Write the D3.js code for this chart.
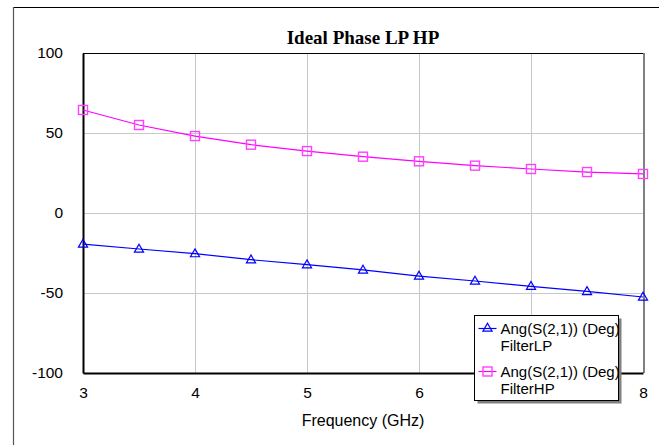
<!DOCTYPE html>
<html>
<head>
<meta charset="utf-8">
<script src="https://cdn.jsdelivr.net/npm/d3@7"></script>
<style>
  html, body { margin: 0; padding: 0; background: #fff; }
  svg { display: block; }
</style>
</head>
<body>
<svg id="chart" width="659" height="445"></svg>
<script>
// Frequency sweep (GHz) and phase of S21 (degrees) for both filters
const freqGHz   = [3, 3.5, 4, 4.5, 5, 5.5, 6, 6.5, 7, 7.5, 8];
const phaseLP   = [-19.4, -22.5, -25.4, -29.2, -32.3, -35.6, -39.4, -42.5, -45.8, -49.0, -52.5];
const phaseHP   = [64.4, 55.0, 48.1, 42.7, 38.7, 35.2, 32.3, 29.6, 27.5, 25.6, 24.4];
const xTicks    = [3, 4, 5, 6, 7, 8];
const xTickLabels = [3, 4, 5, 6, 8];   // "7" sits under the legend box
const yTicks    = [-100, -50, 0, 50, 100];
const seriesNames = ["Ang(S(2,1)) (Deg)", "Ang(S(2,1)) (Deg)"];
const seriesSubs  = ["FilterLP", "FilterHP"];

const svg = d3.select("#chart");
const plot = { left: 83, right: 643, top: 53, bottom: 373 };

const x = d3.scaleLinear().domain([3, 8]).range([plot.left, plot.right]);
const y = d3.scaleLinear().domain([-100, 100]).range([plot.bottom, plot.top]);

const sans = "'Liberation Sans', Arial, sans-serif";
const plainNum = d => String(d);   // ASCII hyphen for negatives

// outer frame (top and left edges)
svg.append("line").attr("x1", 13).attr("x2", 659).attr("y1", 7.5).attr("y2", 7.5)
  .attr("stroke", "#000").attr("stroke-width", 1.2);
svg.append("line").attr("x1", 13.5).attr("x2", 13.5).attr("y1", 7).attr("y2", 445)
  .attr("stroke", "#555").attr("stroke-width", 1.2);

// title
svg.append("text")
  .attr("x", (plot.left + plot.right) / 2).attr("y", 44)
  .attr("text-anchor", "middle")
  .attr("font-family", "'Liberation Serif', 'Times New Roman', serif")
  .attr("font-weight", "bold").attr("font-size", 19)
  .text("Ideal Phase LP HP");

// gridlines
const grid = svg.append("g").attr("stroke", "#c8c8c8").attr("stroke-width", 1);
grid.selectAll(".gx").data(xTicks.slice(1, -1)).join("line")
  .attr("x1", d => Math.round(x(d)) + 0.5).attr("x2", d => Math.round(x(d)) + 0.5)
  .attr("y1", plot.top).attr("y2", plot.bottom);
grid.selectAll(".gy").data(yTicks.slice(1, -1)).join("line")
  .attr("x1", plot.left).attr("x2", plot.right)
  .attr("y1", d => Math.round(y(d)) + 0.5).attr("y2", d => Math.round(y(d)) + 0.5);

// plot frame
svg.append("line").attr("x1", plot.left).attr("x2", plot.right).attr("y1", plot.top + 0.5).attr("y2", plot.top + 0.5)
  .attr("stroke", "#000").attr("stroke-width", 1);
svg.append("line").attr("x1", plot.right + 1).attr("x2", plot.right + 1).attr("y1", plot.top).attr("y2", plot.bottom)
  .attr("stroke", "#808080").attr("stroke-width", 2);

// axes built with d3-axis, tick marks hidden
const xAxis = svg.append("g").attr("transform", `translate(0,${plot.bottom})`)
  .call(d3.axisBottom(x).tickValues(xTickLabels).tickSize(0).tickPadding(14).tickFormat(plainNum));
const yAxis = svg.append("g").attr("transform", `translate(${plot.left},0)`)
  .call(d3.axisLeft(y).tickValues(yTicks).tickSize(0).tickPadding(20).tickFormat(plainNum));
[xAxis, yAxis].forEach(g => {
  g.select(".domain").attr("stroke", "#000").attr("stroke-width", 2);
  g.selectAll("text").attr("font-family", sans).attr("font-size", 15.5).attr("fill", "#000");
});

// x-axis title
svg.append("text")
  .attr("x", (plot.left + plot.right) / 2).attr("y", 426)
  .attr("text-anchor", "middle")
  .attr("font-family", sans).attr("font-size", 16)
  .text("Frequency (GHz)");

// series
const line = d3.line().x(d => x(d[0])).y(d => y(d[1]));
const lpData = freqGHz.map((f, i) => [f, phaseLP[i]]);
const hpData = freqGHz.map((f, i) => [f, phaseHP[i]]);

const triPath = d3.symbol().type(d3.symbolTriangle).size(36)();
const sqSize = 9;

svg.append("path").datum(hpData).attr("d", line)
  .attr("fill", "none").attr("stroke", "#ff00ff").attr("stroke-width", 1.2);
svg.append("g").selectAll("rect").data(hpData).join("rect")
  .attr("x", d => x(d[0]) - sqSize / 2).attr("y", d => y(d[1]) - sqSize / 2)
  .attr("width", sqSize).attr("height", sqSize)
  .attr("fill", "none").attr("stroke", "#ff40ff").attr("stroke-width", 1.4);

svg.append("path").datum(lpData).attr("d", line)
  .attr("fill", "none").attr("stroke", "#0000ff").attr("stroke-width", 1.2);
svg.append("g").selectAll("path").data(lpData).join("path")
  .attr("d", triPath)
  .attr("transform", d => `translate(${x(d[0])},${y(d[1]) + 0.5})`)
  .attr("fill", "none").attr("stroke", "#0000ff").attr("stroke-width", 1.2);

// legend with drop shadow
const lg = svg.append("g").attr("transform", "translate(474.5,315.5)");
const lw = 144, lh = 85;
lg.append("rect").attr("x", 3).attr("y", 3).attr("width", lw).attr("height", lh).attr("fill", "#808080");
lg.append("rect").attr("width", lw).attr("height", lh).attr("fill", "#fff").attr("stroke", "#000").attr("stroke-width", 1);

const entries = [
  { color: "#0000ff", marker: "tri", name: seriesNames[0], sub: seriesSubs[0] },
  { color: "#ff00ff", marker: "sq",  name: seriesNames[1], sub: seriesSubs[1] }
];
entries.forEach((e, i) => {
  const g = lg.append("g").attr("transform", `translate(0,${i * 43})`);
  g.append("line").attr("x1", 4).attr("x2", 22).attr("y1", 13).attr("y2", 13)
    .attr("stroke", e.color).attr("stroke-width", 1.2);
  if (e.marker === "tri") {
    g.append("path").attr("d", triPath).attr("transform", "translate(13,13)")
      .attr("fill", "none").attr("stroke", e.color).attr("stroke-width", 1.2);
  } else {
    g.append("rect").attr("x", 13 - sqSize / 2).attr("y", 13 - sqSize / 2)
      .attr("width", sqSize).attr("height", sqSize)
      .attr("fill", "none").attr("stroke", "#ff40ff").attr("stroke-width", 1.4);
  }
  g.append("text").attr("x", 26).attr("y", 18)
    .attr("font-family", sans).attr("font-size", 15).text(e.name);
  g.append("text").attr("x", 26).attr("y", 35)
    .attr("font-family", sans).attr("font-size", 15).text(e.sub);
});
</script>
</body>
</html>
